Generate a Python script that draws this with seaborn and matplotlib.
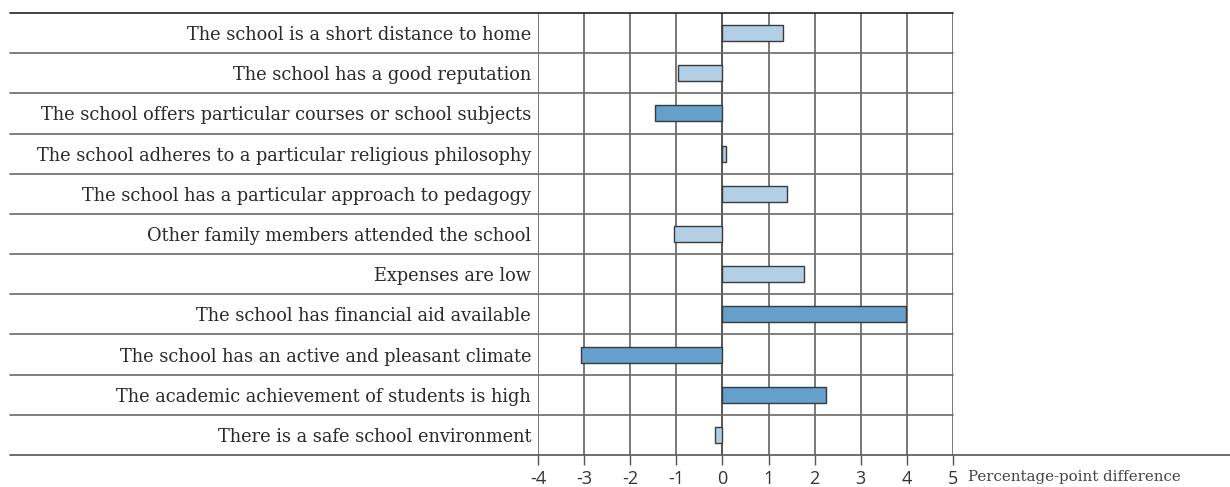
import matplotlib
matplotlib.use("Agg")
import matplotlib.pyplot as plt
import seaborn as sns
import pandas as pd

categories = [
    "The school is a short distance to home",
    "The school has a good reputation",
    "The school offers particular courses or school subjects",
    "The school adheres to a particular religious philosophy",
    "The school has a particular approach to pedagogy",
    "Other family members attended the school",
    "Expenses are low",
    "The school has financial aid available",
    "The school has an active and pleasant climate",
    "The academic achievement of students is high",
    "There is a safe school environment",
]
values = [1.32, -0.97, -1.47, 0.07, 1.40, -1.06, 1.76, 3.98, -3.06, 2.24, -0.17]
groups = ["light", "light", "dark", "light", "light", "light", "light", "dark", "dark", "dark", "light"]
x_ticks = [-4, -3, -2, -1, 0, 1, 2, 3, 4, 5]
x_label = "Percentage-point difference"

df = pd.DataFrame({"category": categories, "value": values, "group": groups})

sns.set_theme(style="white")
plt.rcParams["font.family"] = ["DejaVu Sans"]

fig = plt.figure(figsize=(12.3, 4.87), dpi=100)
ax = fig.add_axes([538 / 1230, 1 - 455 / 487, (953 - 538) / 1230, (455 - 13) / 487])

sns.barplot(data=df, y="category", x="value", hue="group",
            palette={"light": "#b3cfe5", "dark": "#659fcb"}, saturation=1,
            dodge=False, width=0.4, edgecolor="#3a3a3a", linewidth=1.0,
            legend=False, ax=ax, zorder=3)

ax.set_xlim(-4, 5)
ax.set_ylim(len(categories) - 0.5, -0.5)
for s in ax.spines.values():
    s.set_visible(False)

# vertical grid
for t in x_ticks:
    ax.axvline(t, color="#2a2a2a" if t == 0 else "#555555", lw=1.1, zorder=1)

# horizontal separators extending into label area
x0 = (10 - 538) / 415
for i in range(len(categories)):
    ax.plot([x0, 1], [i - 0.5, i - 0.5], transform=ax.get_yaxis_transform(),
            color="#222222" if i == 0 else "#6a6a6a", lw=1.2, clip_on=False, zorder=2)
x1 = (1230 - 538) / 415
ax.plot([x0, x1], [len(categories) - 0.5] * 2, transform=ax.get_yaxis_transform(),
        color="#555555", lw=1.2, clip_on=False, zorder=2)

ax.set_xticks(x_ticks)
ax.set_xticklabels([str(t) for t in x_ticks], fontsize=13, color="#333333",
                   family=["Open Sans", "DejaVu Sans"])
ax.tick_params(axis="x", bottom=True, length=7.5, width=1.0, color="#555555", pad=3)
ax.tick_params(axis="y", left=False, length=0, pad=5)
ax.set_yticks(range(len(categories)))
ax.set_yticklabels(categories, fontsize=12.8, color="#2a2a2a", family=["DejaVu Serif"],
                   va="center_baseline")
ax.set_xlabel("")
ax.set_ylabel("")

ax.text(1.036, -0.035, x_label, transform=ax.transAxes, ha="left", va="top",
        fontsize=10.8, color="#444444", family=["DejaVu Serif"])

fig.savefig("out.png", dpi=100)
